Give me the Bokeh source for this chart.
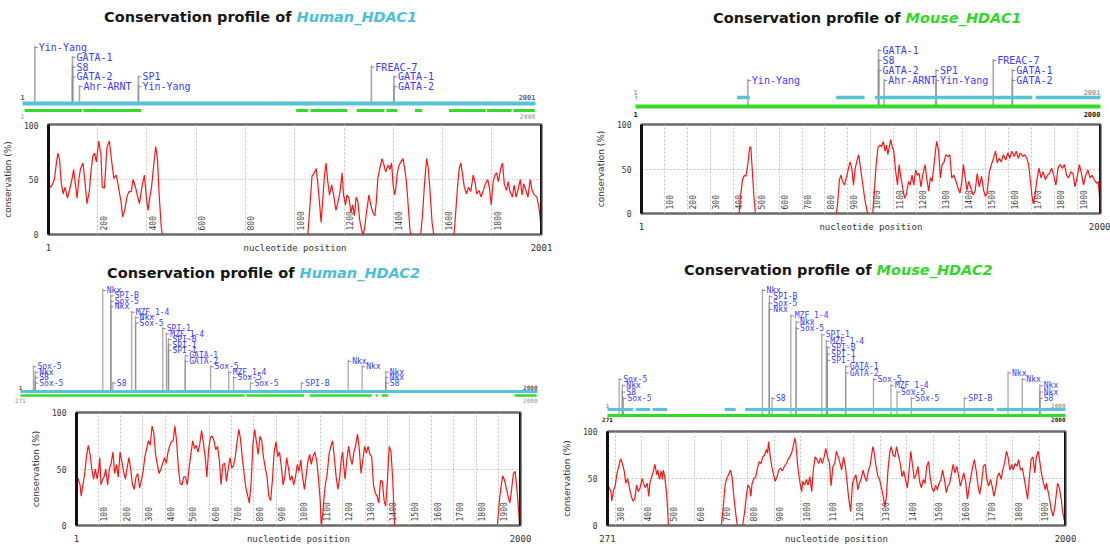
import math
from bokeh.plotting import figure
from bokeh.layouts import row, column
from bokeh.models import Range1d, FixedTicker, Label, Span
from bokeh.core.properties import value
from bokeh.embed import file_html
from bokeh.resources import INLINE

nan = float("nan")

# ---------------- Human HDAC1 ----------------
hh1_pos = [1, 11, 25, 32, 39, 46, 53, 61, 68, 78, 86, 96, 103, 110, 117, 124, 131, 141, 148, 157,
           167, 174, 181, 188, 195, 205, 214, 219, 228, 238, 248, 256, 266, 276, 285, 295, 302, 310, 319, 327,
           337, 344, 354, 361, 370, 380, 390, 398, 405, 412, 419, 426, 436, 443, 450, 458, 462, nan,
           1053, 1062, 1070, 1079, 1087, 1093, 1100, 1107, 1114, 1121, 1127, 1134, 1141, 1150, 1157, 1167, 1174, 1184, 1192, 1198,
           1206, 1212, 1220, 1228, 1235, 1242, 1249, 1256, 1263, 1270, 1277, 1283, 1291, 1301, 1308, 1317, 1325, 1331, 1337, 1345,
           1354, 1362, 1369, 1379, 1386, 1393, 1399, 1405, 1410, 1416, 1422, 1430, 1439, 1446, 1453, 1460, 1467, 1471, nan,
           1511, 1518, 1527, 1535, 1542, 1549, 1557, 1564, nan,
           1646, 1653, 1660, 1667, 1674, 1681, 1688, 1697, 1705, 1714, 1724, 1731, 1738, 1748, 1756, 1765, 1773, 1783, 1790, 1797,
           1805, 1812, 1819, 1826, 1836, 1843, 1850, 1859, 1866, 1873, 1883, 1890, 1898, 1907, 1915, 1922, 1929, 1938, 1946, 1955,
           1963, 1972, 1982, 1989, 1995, 2001]
hh1_cons = [45, 43, 50, 63, 74, 68, 46, 37, 43, 33, 40, 50, 59, 46, 33, 50, 60, 65, 50, 28,
            40, 59, 71, 74, 66, 85, 72, 43, 42, 79, 85, 69, 51, 54, 43, 30, 16, 22, 34, 39,
            39, 50, 43, 36, 28, 43, 54, 34, 22, 34, 43, 59, 80, 69, 36, 8, 0, nan,
            0, 27, 53, 56, 60, 48, 30, 11, 33, 54, 65, 48, 36, 45, 37, 22, 28, 39, 56, 36,
            27, 36, 33, 20, 27, 17, 34, 30, 14, 5, 0, 5, 20, 36, 27, 20, 17, 30, 51, 60,
            69, 63, 57, 63, 59, 65, 45, 36, 42, 56, 62, 66, 69, 60, 48, 27, 5, 0, nan,
            0, 17, 48, 69, 60, 39, 11, 0, nan,
            0, 20, 42, 60, 65, 54, 43, 37, 43, 39, 54, 48, 37, 40, 34, 40, 46, 50, 42, 27,
            48, 54, 56, 48, 60, 65, 46, 40, 48, 39, 34, 45, 34, 42, 50, 36, 46, 40, 34, 50,
            40, 36, 34, 27, 17, 0]
hh1_tf_pos = [49, 196, 196, 196, 223, 453, 453, 1361, 1449, 1449]
hh1_tf_name = ["Yin-Yang", "GATA-1", "S8", "GATA-2", "Ahr-ARNT", "SP1", "Yin-Yang", "FREAC-7", "GATA-1", "GATA-2"]
hh1_tf_row = [0, 1, 2, 3, 4, 3, 4, 2, 3, 4]
hh1_aln_start = [9, 238, 1068, 1124, 1304, 1420, 1531, 1664, 1811, 1915]
hh1_aln_end = [234, 463, 1115, 1266, 1412, 1462, 1559, 1807, 1908, 1998]

# ---------------- Mouse HDAC1 ----------------
mh1_pos = [1, 3, nan,
           426, 433, 441, 449, 456, 464, 472, 477, 483, 490, 497, nan,
           850, 855, 863, 870, 876, 885, 893, 901, 909, 917, 924, 932, 940, 947, 955, 963, 971, 978, 986, nan,
           1008, 1015, 1023, 1031, 1039, 1046, 1054, 1062, 1068, 1074, 1082, 1086, 1093, 1100, 1108, 1116, 1123, 1131, 1139, 1147,
           1154, 1164, 1171, 1179, 1187, 1195, 1202, 1210, 1218, 1225, 1236, 1244, 1252, 1259, 1267, 1275, 1283, 1287, 1295, 1303,
           1310, 1318, 1326, 1337, 1344, 1352, 1361, 1371, 1380, 1388, 1395, 1403, 1411, 1418, 1426, 1434, 1445, 1454, 1463, 1472,
           1482, 1491, 1499, 1506, 1516, 1525, 1534, 1543, 1550, 1559, 1568, 1577, 1587, 1596, 1605, 1614, 1624, 1633, 1642, 1651,
           1661, 1670, 1679, 1687, 1695, 1701, 1707, 1715, 1722, 1732, 1741, 1750, 1760, 1769, 1778, 1787, 1797, 1806, 1815, 1824,
           1834, 1843, 1852, 1861, 1871, 1880, 1889, 1899, 1908, 1917, 1926, 1936, 1945, 1954, 1963, 1973, 1982, 1990, 1994, 2000]
mh1_cons = [10, 0, nan,
            0, 21, 38, 43, 42, 55, 74, 75, 51, 21, 0, nan,
            0, 11, 38, 43, 36, 32, 40, 49, 58, 51, 32, 51, 60, 66, 51, 36, 21, 9, 0, nan,
            0, 25, 55, 74, 77, 75, 81, 70, 77, 66, 77, 83, 75, 70, 47, 32, 55, 40, 28, 17,
            21, 36, 32, 43, 32, 49, 43, 45, 30, 42, 55, 38, 25, 40, 36, 55, 74, 81, 70, 40,
            55, 57, 66, 64, 66, 40, 43, 36, 28, 23, 34, 55, 40, 26, 36, 30, 21, 25, 45, 30,
            42, 26, 19, 23, 47, 55, 62, 70, 57, 62, 58, 66, 60, 68, 62, 70, 64, 70, 62, 68,
            64, 66, 62, 55, 36, 21, 11, 21, 36, 51, 40, 47, 38, 43, 45, 51, 42, 32, 51, 55,
            51, 55, 43, 40, 47, 45, 30, 42, 55, 45, 32, 43, 49, 40, 43, 38, 34, 36, 25, 0]
mh1_tf_pos = [484, 1046, 1046, 1046, 1070, 1293, 1293, 1539, 1621, 1621]
mh1_tf_name = ["Yin-Yang", "GATA-1", "S8", "GATA-2", "Ahr-ARNT", "SP1", "Yin-Yang", "FREAC-7", "GATA-1", "GATA-2"]
mh1_tf_row = [3, 0, 1, 2, 3, 2, 3, 1, 2, 3]
mh1_aln_start = [1, 437, 864, 1030, 1722]
mh1_aln_end = [7, 492, 986, 1707, 2000]

# ---------------- Human HDAC2 ----------------
hh2_pos = [1, 9, 17, 22, 30, 38, 46, 54, 62, 70, 78, 86, 94, 101, 106, 111, 117, 125, 133, 141,
           149, 157, 165, 173, 181, 189, 197, 205, 213, 221, 229, 237, 245, 253, 261, 269, 277, 285, 293, 301,
           309, 317, 325, 333, 341, 349, 357, 365, 373, 381, 389, 397, 405, 413, 420, 428, 436, 444, 452, 460,
           468, 476, 484, 492, 500, 508, 516, 524, 532, 540, 548, 556, 564, 572, 580, 588, 596, 604, 612, 620,
           628, 636, 644, 652, 660, 668, 676, 684, 692, 700, 708, 716, 724, 732, 739, 747, 755, 763, 771, 779,
           787, 795, 803, 811, 819, 827, 835, 843, 851, 859, 867, 875, 883, 891, 899, 907, 915, 923, 931, 939,
           947, 955, 963, 971, 979, 987, 995, 1003, 1011, 1019, 1027, 1035, 1043, 1051, 1058, 1066, 1074, 1082, 1090, 1098,
           1103, 1109, 1116, 1122, 1130, 1138, 1146, 1154, 1162, 1170, 1178, 1186, 1194, 1199, 1205, 1210, 1218, 1226, 1234, 1242,
           1250, 1258, 1266, 1274, 1282, 1290, 1298, 1306, 1314, 1322, 1330, 1338, 1346, 1354, 1362, 1370, 1378, 1386, 1393, 1401,
           1409, 1417, 1425, 1433, nan,
           1896, 1904, 1912, 1920, 1928, 1936, 1944, 1952, 1960, 1968, 1976, 1984, 1992, 1996]
hh2_cons = [44, 41, 36, 26, 36, 46, 61, 71, 63, 50, 41, 50, 41, 50, 60, 36, 40, 43, 50, 36,
            50, 55, 65, 46, 54, 43, 65, 57, 48, 41, 51, 60, 50, 36, 32, 43, 46, 33, 40, 48,
            61, 68, 75, 71, 88, 82, 63, 54, 46, 50, 55, 60, 55, 65, 70, 74, 75, 88, 74, 50,
            37, 36, 43, 43, 36, 51, 63, 75, 68, 71, 65, 72, 84, 74, 61, 43, 68, 78, 79, 75,
            67, 70, 58, 36, 54, 55, 39, 50, 60, 51, 53, 61, 74, 85, 77, 61, 47, 34, 27, 20,
            37, 71, 85, 74, 63, 79, 75, 60, 51, 43, 26, 22, 40, 65, 74, 61, 65, 53, 36, 43,
            60, 51, 40, 44, 36, 43, 54, 48, 58, 43, 32, 44, 57, 63, 54, 61, 65, 58, 43, 23,
            0, 9, 26, 37, 46, 63, 70, 75, 60, 43, 32, 43, 60, 65, 51, 41, 58, 70, 60, 54,
            65, 71, 81, 68, 46, 58, 70, 64, 70, 63, 61, 36, 29, 26, 20, 40, 39, 22, 17, 40,
            70, 65, 40, 0, nan,
            0, 20, 34, 44, 40, 33, 26, 20, 32, 46, 48, 32, 12, 0]
hh2_tf_pos = [51, 58, 58, 58, 319, 350, 350, 350, 358, 431, 446, 446, 551, 565, 573, 573, 573,
              638, 638, 736, 806, 825, 890, 1087, 1268, 1322, 1413, 1413, 1413]
hh2_tf_name = ["Sox-5", "Nkx", "S8", "Sox-5", "Nkx", "SPI-B", "Sox-5", "Nkx", "S8", "MZF_1-4", "Nkx", "Sox-5",
               "SPI-1", "MZF_1-4", "SPI-B", "SPI-1", "SPI-1", "GATA-1", "GATA-2", "Sox-5", "MZF_1-4", "Sox-5",
               "Sox-5", "SPI-B", "Nkx", "Nkx", "Nkx", "Nkx", "S8"]
hh2_tf_row = [14, 15, 16, 17, 0, 1, 2, 3, 17, 4, 5, 6, 7, 8, 9, 10, 11, 12, 13, 14, 15, 16, 17, 17, 13, 14, 15, 16, 17]
hh2_aln_start = [1, 874, 1119, 1374, 1397, 1912]
hh2_aln_end = [867, 1097, 1359, 1382, 1423, 1997]

# ---------------- Mouse HDAC2 ----------------
mh2_pos = [271, 278, 284, 287, 294, 300, 307, 314, 320, 327, 334, 340, 347, 354, 361, 367, 374, 381, 387, 394,
           401, 407, 414, 421, 427, 431, 438, 445, 450, 457, 461, 467, 474, 478, 482, 487, 494, 498, 501, nan,
           701, 708, 715, 721, 728, 735, 741, 748, 755, 761, nan,
           781, 788, 795, 801, 808, 812, 817, 824, 831, 837, 844, 851, 857, 864, 871, 875, 879, 884, 891, 898,
           904, 911, 918, 924, 931, 939, 946, 952, 959, 966, 972, 978, 982, 987, 992, 998, 1004, 1008, 1015, 1022,
           1028, 1035, 1042, 1048, 1055, 1062, 1069, 1075, 1082, 1089, 1095, 1102, 1109, 1115, 1122, 1129, 1135, 1142, 1149, 1155,
           1162, 1169, 1175, 1182, 1189, 1196, 1202, 1209, 1216, 1222, 1229, 1236, 1242, 1249, 1256, 1262, 1269, 1273, 1278, 1285,
           1292, 1298, 1305, 1312, 1318, 1324, 1329, 1336, 1342, 1349, 1356, 1362, 1369, 1376, 1383, 1389, 1396, 1403, 1409, 1416,
           1423, 1429, 1436, 1443, 1449, 1456, 1463, 1470, 1476, 1483, 1489, 1496, 1503, 1510, 1516, 1523, 1530, 1536, 1543, 1550,
           1556, 1563, 1570, 1576, 1583, 1590, 1596, 1603, 1610, 1616, 1623, 1630, 1636, 1643, 1650, 1656, 1663, 1670, 1676, 1683,
           1690, 1697, 1703, 1710, 1717, 1723, 1730, 1737, 1743, 1750, 1757, 1763, 1770, 1777, 1783, 1790, 1797, 1803, 1810, 1817,
           1823, 1830, 1837, 1843, 1850, 1857, 1863, 1870, 1877, 1884, 1890, 1897, 1904, 1910, 1917, 1924, 1928, 1933, 1940, 1946,
           1953, 1960, 1966, 1970, 1977, 1984, 1990, 2000]
mh2_cons = [45, 40, 36, 26, 38, 42, 56, 63, 71, 66, 58, 45, 50, 40, 31, 26, 28, 43, 36, 40,
            50, 45, 40, 45, 31, 45, 52, 59, 65, 54, 59, 49, 58, 49, 59, 52, 35, 17, 0, nan,
            0, 20, 43, 50, 54, 59, 52, 31, 13, 0, nan,
            0, 13, 31, 43, 40, 31, 45, 50, 52, 61, 68, 66, 73, 75, 81, 77, 89, 77, 63, 54,
            47, 52, 59, 61, 58, 63, 66, 70, 73, 77, 84, 93, 88, 70, 56, 45, 36, 47, 43, 49,
            43, 52, 36, 59, 73, 70, 66, 72, 66, 73, 82, 73, 66, 42, 63, 66, 79, 73, 66, 59,
            73, 63, 47, 28, 15, 45, 50, 54, 38, 45, 50, 59, 52, 47, 59, 63, 77, 84, 77, 63,
            52, 49, 40, 31, 20, 31, 56, 77, 84, 75, 73, 84, 75, 66, 52, 58, 49, 40, 56, 79,
            63, 50, 54, 63, 47, 40, 49, 45, 63, 68, 52, 40, 36, 43, 38, 45, 49, 59, 49, 35,
            42, 45, 56, 65, 56, 63, 54, 42, 49, 56, 47, 28, 40, 52, 63, 70, 58, 42, 33, 45,
            63, 65, 49, 42, 49, 42, 31, 40, 52, 56, 49, 59, 66, 79, 73, 59, 65, 59, 66, 63,
            70, 59, 61, 52, 40, 28, 49, 70, 73, 56, 73, 79, 66, 54, 45, 38, 45, 38, 28, 17,
            10, 20, 35, 45, 40, 28, 13, 0]
mh2_tf_pos = [315, 327, 327, 331, 856, 882, 882, 882, 892, 963, 983, 983, 1080, 1097, 1101, 1101, 1101,
              1170, 1170, 1275, 1341, 1364, 1418, 1618, 1783, 1837, 1903, 1903, 1903]
mh2_tf_name = hh2_tf_name
mh2_tf_row = hh2_tf_row
mh2_aln_start = [271, 378, 441, 713, 790, 1740]
mh2_aln_end = [367, 432, 496, 755, 1730, 2000]

CYAN = "#58c2d8"
GREEN = "#30dc28"
TF_BLUE = "#3a3aff"
MONO = "DejaVu Sans Mono"


def header_fig(width, height, nt_lo, nt_hi, px_lo, px_hi):
    s = (nt_hi - nt_lo) / (px_hi - px_lo)
    x0 = nt_lo - px_lo * s
    p = figure(width=width, height=height, x_range=Range1d(x0, x0 + width * s),
               y_range=Range1d(height, 0), x_axis_type=None, y_axis_type=None,
               min_border=0, toolbar_location=None, output_backend="svg")
    p.frame_align = False
    p.outline_line_color = None
    p.background_fill_color = "white"
    p.border_fill_color = "white"
    return p


def add_title(p, split_px, y, species, color):
    common = dict(x=split_px, y=y, x_units="screen", y_units="data", text_baseline="middle",
                  text_font="DejaVu Sans", text_font_size="14.5px")
    p.add_layout(Label(text="Conservation profile of ", text_align="right",
                       text_font_style="bold", text_color="#161616", **common))
    p.add_layout(Label(text=species, text_align="left", text_font_style="bold italic",
                       text_color=color, **common))


def add_tfs(p, pos, names, rows, base_y, row_top, row_step, font_size, line_w):
    ys = [row_top + r * row_step for r in rows]
    p.segment(x0=pos, y0=[base_y] * len(pos), x1=pos, y1=[y - 1.5 for y in ys],
              line_color="#8c8c8c", line_width=line_w, line_alpha=0.75)
    p.ray(x=pos, y=ys, length=3, length_units="screen", angle=0,
          line_color="#8c8c8c", line_width=1)
    p.text(x=pos, y=ys, text=names, x_offset=4, text_baseline="middle", text_align="left",
           text_font=value(MONO), text_font_size=font_size, text_color=TF_BLUE)


def add_end_labels(p, lo, hi, y, left_txt, right_txt, color, size, bold=True):
    style = "bold" if bold else "normal"
    p.text(x=[lo], y=[y], text=[left_txt], text_align="center", text_baseline="middle",
           text_font=value(MONO), text_font_size=size, text_color=color, text_font_style=style)
    p.text(x=[hi], y=[y], text=[right_txt], text_align="right", text_baseline="middle",
           text_font=value(MONO), text_font_size=size, text_color=color, text_font_style=style)


def profile_fig(width, height, lo, hi, left, right, top, bottom, grid_ticks, xs, ys):
    p = figure(width=width, height=height, x_range=Range1d(lo, hi), y_range=Range1d(0, 100),
               min_border_left=left, min_border_right=right, min_border_top=top,
               min_border_bottom=bottom, toolbar_location=None, output_backend="svg")
    p.frame_align = False
    p.outline_line_color = "#6a6a6a"
    p.outline_line_width = 2.5

    mid = (lo + hi) // 2
    xa = p.xaxis[0]
    xa.ticker = FixedTicker(ticks=[lo, mid, hi])
    xa.major_label_overrides = {lo: str(lo), mid: "nucleotide position", hi: str(hi)}
    xa.axis_line_color = None
    xa.major_tick_line_color = None
    xa.minor_tick_line_color = None
    xa.major_label_standoff = 2
    xa.major_label_text_font = MONO
    xa.major_label_text_font_size = "9px"
    xa.major_label_text_color = "#333333"

    ya = p.yaxis[0]
    ya.ticker = FixedTicker(ticks=[0, 50, 100])
    ya.axis_line_color = "#111111"
    ya.axis_line_width = 3
    ya.major_tick_line_color = None
    ya.minor_tick_line_color = None
    ya.major_label_standoff = 4
    ya.major_label_text_font = MONO
    ya.major_label_text_font_size = "8px"
    ya.major_label_text_color = "#333333"
    ya.axis_label = "conservation (%)"
    ya.axis_label_text_font = "DejaVu Sans"
    ya.axis_label_text_font_style = "normal"
    ya.axis_label_text_font_size = "9px"
    ya.axis_label_text_color = "#333333"
    ya.axis_label_standoff = 8

    p.add_layout(Span(location=hi, dimension="height", line_color="#111111", line_width=3))

    p.xgrid.ticker = FixedTicker(ticks=grid_ticks)
    p.ygrid.ticker = FixedTicker(ticks=[50])
    for g in (p.xgrid[0], p.ygrid[0]):
        g.grid_line_color = "#c4c4c4"
        g.grid_line_dash = "2 2"
        g.grid_line_width = 1

    p.text(x=grid_ticks, y=[0] * len(grid_ticks), text=[str(t) for t in grid_ticks],
           angle=math.pi / 2, x_offset=2, y_offset=-4, text_align="left", text_baseline="top",
           text_font=value(MONO), text_font_size="8px", text_color="#444444")

    p.line(xs, ys, line_color="#ff1414", line_width=1.2)
    return p


# ---- top left: Human_HDAC1 ----
tl_head = header_fig(555, 121, 1, 2001, 22, 535)
add_title(tl_head, 296, 16, "Human_HDAC1", "#4cbfd8")
add_tfs(tl_head, hh1_tf_pos, hh1_tf_name, hh1_tf_row, 103, 47, 9.8, "10px", 1.6)
tl_head.line(x=[1, 2001], y=[103, 103], line_color=CYAN, line_width=4)
tl_head.segment(x0=hh1_aln_start, y0=[110] * len(hh1_aln_start), x1=hh1_aln_end,
                y1=[110] * len(hh1_aln_end), line_color=GREEN, line_width=3)
add_end_labels(tl_head, 1, 2001, 96, "1", "2001", "#666666", "7px")
add_end_labels(tl_head, 1, 2001, 116, "1", "2000", "#b0b0b0", "6.5px")
tl_plot = profile_fig(555, 134, 1, 2001, 41, 14, 3, 21,
                      [200, 400, 600, 800, 1000, 1200, 1400, 1600, 1800], hh1_pos, hh1_cons)

# ---- bottom left: Human_HDAC2 ----
bl_head = header_fig(555, 150, 1, 2000, 20, 537)
add_title(bl_head, 299, 17, "Human_HDAC2", "#4cbfd8")
add_tfs(bl_head, hh2_tf_pos, hh2_tf_name, hh2_tf_row, 136, 35, 5.45, "8px", 1.3)
bl_head.line(x=[1, 2000], y=[136, 136], line_color=CYAN, line_width=3)
bl_head.segment(x0=hh2_aln_start, y0=[140] * len(hh2_aln_start), x1=hh2_aln_end,
                y1=[140] * len(hh2_aln_end), line_color=GREEN, line_width=2.5)
add_end_labels(bl_head, 1, 2000, 132, "1", "2000", "#555555", "6px")
add_end_labels(bl_head, 1, 2000, 145, "271", "2000", "#b0b0b0", "6px")
bl_plot = profile_fig(555, 141, 1, 2000, 76, 35, 7, 15,
                      list(range(100, 2000, 100)), hh2_pos, hh2_cons)

# ---- top right: Mouse_HDAC1 ----
tr_head = header_fig(555, 118, 1, 2000, 80, 545)
add_title(tr_head, 350, 17, "Mouse_HDAC1", "#33d62a")
add_tfs(tr_head, mh1_tf_pos, mh1_tf_name, mh1_tf_row, 106, 50, 10, "10px", 1.6)
tr_head.segment(x0=mh1_aln_start, y0=[97] * len(mh1_aln_start), x1=mh1_aln_end,
                y1=[97] * len(mh1_aln_end), line_color=CYAN, line_width=3.5)
tr_head.line(x=[1, 2000], y=[106, 106], line_color=GREEN, line_width=4)
add_end_labels(tr_head, 1, 2000, 91, "1", "2001", "#a0a0a0", "7px")
add_end_labels(tr_head, 1, 2000, 113, "1", "2000", "#222222", "7px")
tr_plot = profile_fig(555, 117, 1, 2000, 86, 10, 6, 22,
                      list(range(100, 2000, 100)), mh1_pos, mh1_cons)

# ---- bottom right: Mouse_HDAC2 ----
br_head = header_fig(555, 189, 271, 2000, 52, 510)
add_title(br_head, 321, 34, "Mouse_HDAC2", "#33d62a")
add_tfs(br_head, mh2_tf_pos, mh2_tf_name, mh2_tf_row, 180, 55, 6.35, "8px", 1.3)
br_head.segment(x0=mh2_aln_start, y0=[174] * len(mh2_aln_start), x1=mh2_aln_end,
                y1=[174] * len(mh2_aln_end), line_color=CYAN, line_width=3)
br_head.line(x=[271, 2000], y=[180, 180], line_color=GREEN, line_width=3)
add_end_labels(br_head, 271, 2000, 170, "1", "2000", "#a0a0a0", "6px")
add_end_labels(br_head, 271, 2000, 184, "271", "2000", "#222222", "6px")
br_plot = profile_fig(555, 122, 271, 2000, 52, 45, 7, 21,
                      list(range(300, 2000, 100)), mh2_pos, mh2_cons)

layout = row(column(tl_head, tl_plot, bl_head, bl_plot),
             column(tr_head, tr_plot, br_head, br_plot))

open("out.html", "w").write(file_html(layout, INLINE))
